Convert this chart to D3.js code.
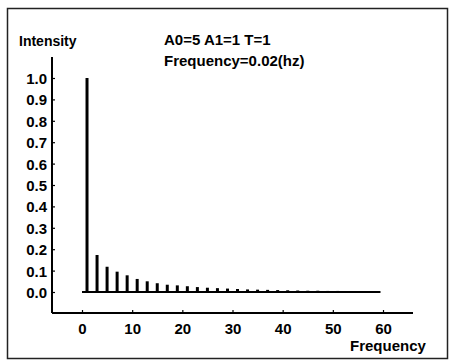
<!DOCTYPE html>
<html>
<head>
<meta charset="utf-8">
<script src="https://cdn.jsdelivr.net/npm/d3@7"></script>
<style>
  body { margin: 0; background: #fff; }
  svg text { font-family: "Liberation Sans", Arial, sans-serif; fill: #000; font-weight: bold; }
</style>
</head>
<body>
<div id="chart"></div>
<script>
// harmonics (odd frequencies) and their normalised intensity
const freqs = [1, 3, 5, 7, 9, 11, 13, 15, 17, 19, 21, 23, 25, 27, 29,
               31, 33, 35, 37, 39, 41, 43, 45, 47, 49, 51, 53, 55, 57, 59];
const intensity = [1.0, 0.173, 0.118, 0.095, 0.078, 0.061, 0.050, 0.041, 0.034, 0.031,
                   0.027, 0.023, 0.020, 0.018, 0.016, 0.014, 0.012, 0.011, 0.010, 0.009,
                   0.008, 0.007, 0.006, 0.006, 0.005, 0.005, 0.004, 0.004, 0.004, 0.003];
const xTicks = [0, 10, 20, 30, 40, 50, 60];
const yTicks = [0.0, 0.1, 0.2, 0.3, 0.4, 0.5, 0.6, 0.7, 0.8, 0.9, 1.0];
const titleLines = ["A0=5 A1=1 T=1", "Frequency=0.02(hz)"];

const width = 449, height = 363;

const svg = d3.select("#chart").append("svg")
    .attr("width", width)
    .attr("height", height);

// frame round the whole figure
svg.append("rect")
    .attr("x", 7.5).attr("y", 8.5)
    .attr("width", 440).attr("height", 350)
    .attr("fill", "none")
    .attr("stroke", "#222")
    .attr("stroke-width", 1.5);

const x = d3.scaleLinear().domain([0, 60]).range([82, 383]);
const y = d3.scaleLinear().domain([0, 1]).range([292, 78]);

const axisLeftX = 52, axisBottomY = 313;

// y axis
const yAxis = svg.append("g")
    .attr("transform", `translate(${axisLeftX},0)`)
    .call(d3.axisLeft(y).tickValues(yTicks).tickFormat(d3.format(".1f")).tickSize(-3).tickPadding(5));
yAxis.select(".domain").remove();
yAxis.append("line")
    .attr("x1", 0).attr("x2", 0)
    .attr("y1", 57).attr("y2", axisBottomY)
    .attr("stroke", "#000").attr("stroke-width", 2);
yAxis.selectAll(".tick line").attr("stroke", "#000").attr("stroke-width", 1.2);
yAxis.selectAll(".tick text")
    .style("font-size", "15px")
    .attr("dy", "0.36em");

// x axis
const xAxis = svg.append("g")
    .attr("transform", `translate(0,${axisBottomY})`)
    .call(d3.axisBottom(x).tickValues(xTicks).tickSize(-3).tickPadding(10));
xAxis.select(".domain").remove();
xAxis.append("line")
    .attr("x1", axisLeftX).attr("x2", 413)
    .attr("y1", 0).attr("y2", 0)
    .attr("stroke", "#000").attr("stroke-width", 2);
xAxis.selectAll(".tick line").attr("stroke", "#000").attr("stroke-width", 1.2);
xAxis.selectAll(".tick text")
    .style("font-size", "15px");

// spectrum baseline
svg.append("line")
    .attr("x1", x(0)).attr("x2", x(59.5))
    .attr("y1", y(0)).attr("y2", y(0))
    .attr("stroke", "#000").attr("stroke-width", 2);

// stems
svg.selectAll(".stem")
    .data(freqs)
    .enter().append("line")
    .attr("class", "stem")
    .attr("x1", d => x(d)).attr("x2", d => x(d))
    .attr("y1", y(0))
    .attr("y2", (d, i) => y(intensity[i]))
    .attr("stroke", "#000")
    .attr("stroke-width", 3);

// labels
svg.append("text")
    .attr("x", 19).attr("y", 46)
    .style("font-size", "14px")
    .text("Intensity");

svg.append("text")
    .attr("x", 350).attr("y", 351)
    .style("font-size", "15px")
    .text("Frequency");

svg.selectAll(".title")
    .data(titleLines)
    .enter().append("text")
    .attr("class", "title")
    .attr("x", 164)
    .attr("y", (d, i) => 45 + i * 21)
    .style("font-size", "15px")
    .text(d => d);
</script>
</body>
</html>
